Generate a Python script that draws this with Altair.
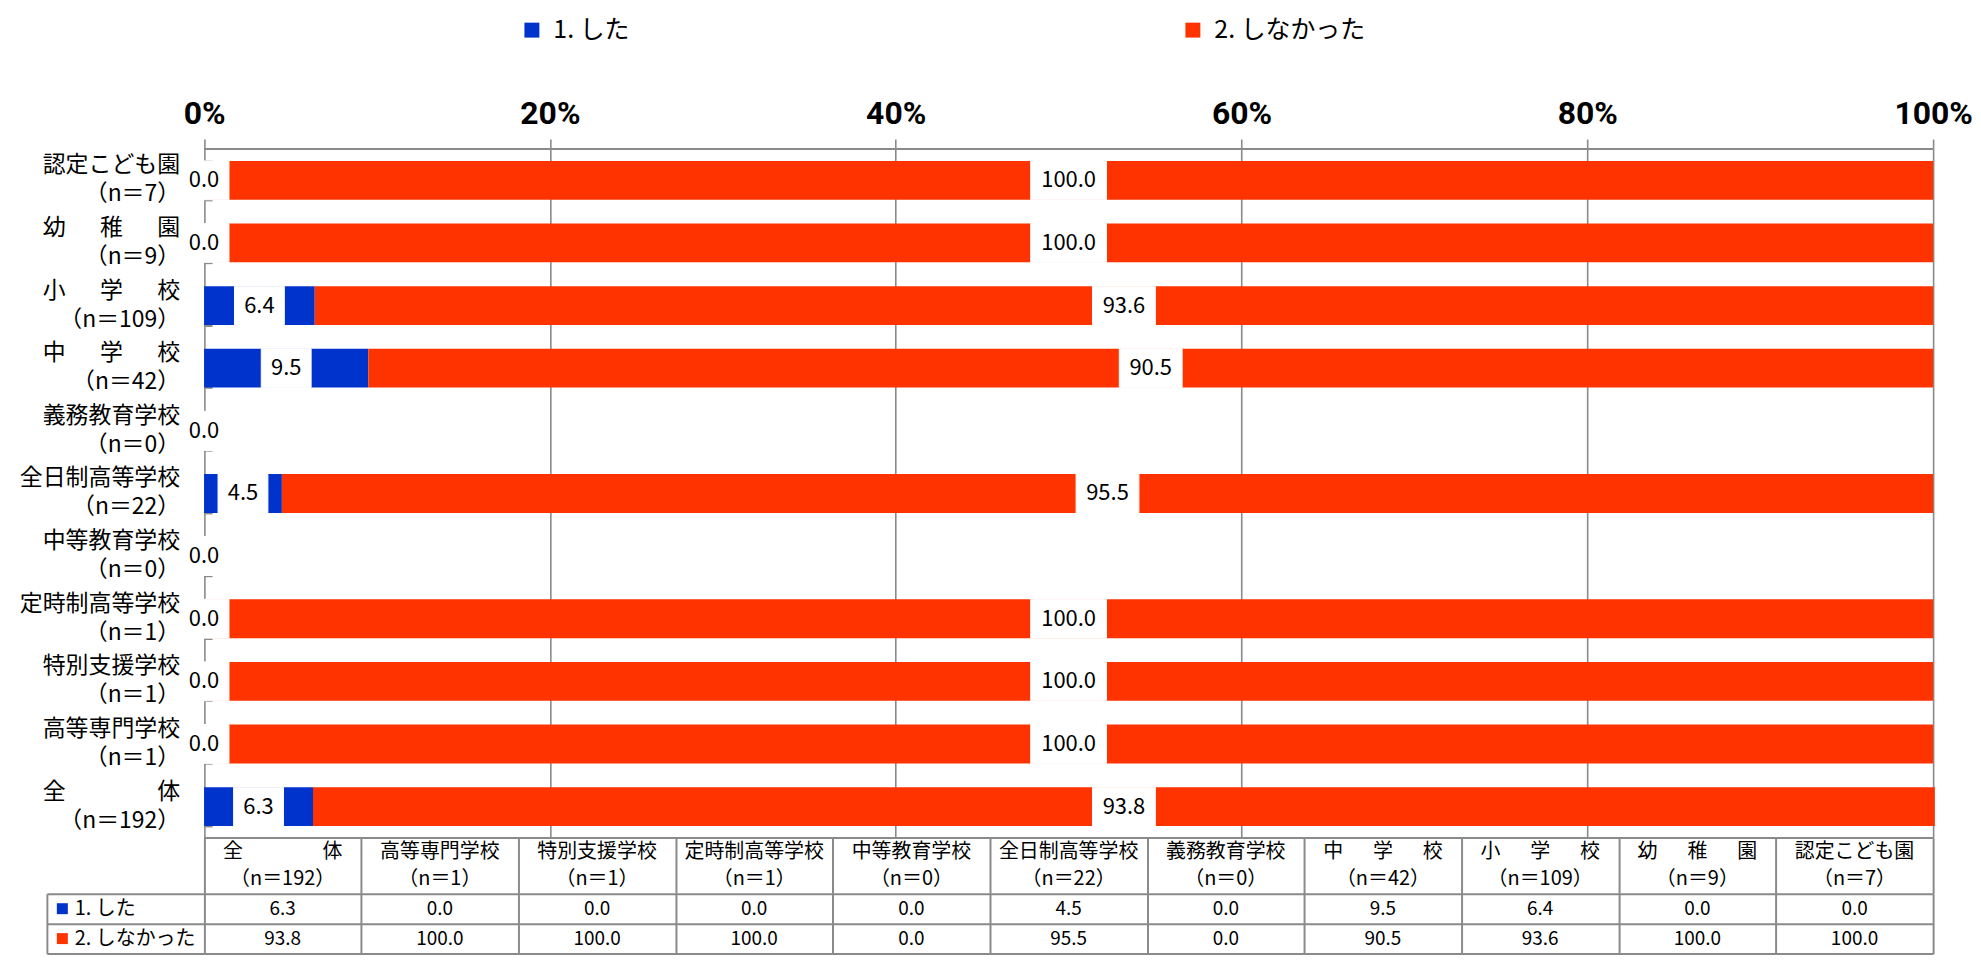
import altair as alt
import pandas as pd

# ---------------- data ----------------
categories = ["認定こども園", "幼稚園", "小学校", "中学校", "義務教育学校", "全日制高等学校",
              "中等教育学校", "定時制高等学校", "特別支援学校", "高等専門学校", "全体"]
display_names = ["認定こども園", "幼\u3000\u2002稚\u3000\u2002園", "小\u3000\u2002学\u3000\u2002校",
                 "中\u3000\u2002学\u3000\u2002校", "義務教育学校", "全日制高等学校", "中等教育学校",
                 "定時制高等学校", "特別支援学校", "高等専門学校", "全\u3000\u3000\u3000\u3000体"]
n_values = [7, 9, 109, 42, 0, 22, 0, 1, 1, 1, 192]
did = [0.0, 0.0, 6.4, 9.5, 0.0, 4.5, 0.0, 0.0, 0.0, 0.0, 6.3]
did_not = [100.0, 100.0, 93.6, 90.5, 0.0, 95.5, 0.0, 100.0, 100.0, 100.0, 93.8]
series_names = ["1. した", "2. しなかった"]
series_colors = ["#0033CC", "#FF3300"]
tick_values = [0, 20, 40, 60, 80, 100]

# ---------------- layout / style ----------------
FONT = "Noto Sans CJK JP"
TICKFONT = "Roboto"
GRID = "#8a8a8a"
NCOL = len(categories)
COLW = 100 / NCOL
W = 1892
ROW_H = 691
HEAD_H = 56
BODY_H = 60
PX = W / (100 + COLW)


def n_label(n):
    return f"（n＝{n}）"


def em_width(s):
    w = 0.0
    for ch in s:
        if ch in "0123456789n":
            w += 0.555
        elif ch == "\u2002":
            w += 0.5
        else:
            w += 1.0
    return w


# bars + labels table
bar_rows = []
for i, cat in enumerate(categories):
    start = 0.0
    for s, v in zip(series_names, [did[i], did_not[i]]):
        end = start + v
        mid = (start + end) / 2
        lbl = f"{v:.1f}"
        hw = (6.5 * len(lbl) + 5.5) / PX
        bar_rows.append({"cat": cat, "series": s, "start": start, "end": end, "mid": mid,
                         "label": lbl, "box_l": mid - hw, "box_r": mid + hw})
        start = end
df_bars = pd.DataFrame(bar_rows)

ylab_rows = []
for cat, name, n in zip(categories, display_names, n_values):
    l2 = n_label(n)
    pad = max(0.0, (em_width(name) - em_width(l2)) / 2)
    l2 = l2 + "\u2002" * int(round(pad / 0.5))
    ylab_rows.append({"cat": cat, "text": name + "\n" + l2, "x0": 0.0})
df_ylab = pd.DataFrame(ylab_rows)

xs = alt.Scale(domain=[-COLW, 100], nice=False, zero=False)
ys = alt.Scale(domain=categories, paddingInner=0.38, paddingOuter=0.19)
cs = alt.Scale(domain=series_names, range=series_colors)

xaxis = alt.Axis(orient="top", values=tick_values, labelExpr="datum.value + '%'", grid=True,
                 gridColor=GRID, gridWidth=1.6, domain=False, tickSize=10, tickColor=GRID,
                 tickWidth=1.6, labelFont=TICKFONT, labelFontWeight="bold", labelFontSize=32,
                 labelColor="black", labelPadding=16, labelBaseline="alphabetic",
                 labelFlush=False, title=None)
yaxis = alt.Axis(labels=False, domain=False, ticks=True, tickBand="extent", tickSize=8,
                 tickColor=GRID, tickWidth=2, offset=-(COLW * PX + 8), grid=False, title=None)

legend = alt.Legend(orient="none", legendX=474, legendY=-132, direction="horizontal", title=None,
                    symbolType="square", symbolSize=225, symbolStrokeWidth=0, labelFont=FONT,
                    labelFontSize=25, labelColor="black", labelOffset=9, columnPadding=552,
                    padding=0)

Y_MAIN = alt.Y("cat:N", sort=categories, scale=ys, axis=yaxis)

bars = alt.Chart(df_bars).mark_bar().encode(
    x=alt.X("start:Q", scale=xs, axis=xaxis),
    x2="end:Q",
    y=Y_MAIN,
    color=alt.Color("series:N", scale=cs, legend=legend),
)
boxes = alt.Chart(df_bars).mark_bar(color="white", stroke="white", strokeWidth=1).encode(
    x=alt.X("box_l:Q", scale=xs, axis=xaxis),
    x2="box_r:Q",
    y=Y_MAIN,
)
labels = alt.Chart(df_bars).transform_filter(
    "datum.series == '" + series_names[0] + "' || datum.end > 0"
).mark_text(font=FONT, fontSize=22, color="black").encode(
    x=alt.X("mid:Q", scale=xs, axis=xaxis),
    y=Y_MAIN,
    text="label:N",
)
ylabels = alt.Chart(df_ylab).mark_text(font=FONT, fontSize=23, color="black", align="right",
                                       dx=-24, dy=-15, lineBreak="\n", lineHeight=29).encode(
    x=alt.X("x0:Q", scale=xs, axis=xaxis),
    y=Y_MAIN,
    text="text:N",
)
df_top = pd.DataFrame({"a": [tick_values[0]], "b": [tick_values[-1]]})
topline = alt.Chart(df_top).mark_rule(color=GRID, strokeWidth=2).encode(
    x=alt.X("a:Q", scale=xs, axis=xaxis), x2="b:Q", y=alt.value(0)
)
main = alt.layer(bars, boxes, labels, ylabels, topline).properties(width=W, height=ROW_H)

# ---------------- data table ----------------
table_order = list(reversed(range(NCOL)))
head_rows = []
body_rows = []
for j, k in enumerate(table_order):
    xc = (j + 0.5) * 100 / NCOL
    head_rows.append({"xc": xc, "text": display_names[k] + "\n" + n_label(n_values[k])})
    body_rows.append({"xc": xc, "series": series_names[0], "text": f"{did[k]:.1f}"})
    body_rows.append({"xc": xc, "series": series_names[1], "text": f"{did_not[k]:.1f}"})
df_head = pd.DataFrame(head_rows)
df_body = pd.DataFrame(body_rows)
df_rowhead = pd.DataFrame({"series": series_names, "xh": [-COLW] * len(series_names)})

head_grid = [i * 100 / NCOL for i in range(NCOL + 1)]
body_grid = [-COLW] + head_grid

head_xaxis = alt.Axis(values=head_grid, grid=True, gridColor=GRID, gridWidth=2, labels=False,
                      ticks=False, domain=False, title=None)
head_text = alt.Chart(df_head).mark_text(font=FONT, fontSize=20, color="black", lineBreak="\n",
                                         lineHeight=27, dy=-14).encode(
    x=alt.X("xc:Q", scale=xs, axis=head_xaxis),
    text="text:N",
)
head_top = alt.Chart(df_top).mark_rule(color=GRID, strokeWidth=2).encode(
    x=alt.X("a:Q", scale=xs, axis=head_xaxis), x2="b:Q", y=alt.value(0)
)
head = alt.layer(head_text, head_top).properties(width=W, height=HEAD_H)

bys = alt.Scale(domain=series_names, paddingInner=0, paddingOuter=0)
body_xaxis = alt.Axis(values=body_grid, grid=True, gridColor=GRID, gridWidth=2, labels=False,
                      ticks=False, domain=False, title=None)
body_yaxis = alt.Axis(grid=True, tickBand="extent", gridColor=GRID, gridWidth=2, labels=False,
                      ticks=False, domain=False, title=None)
Y_BODY = alt.Y("series:N", sort=series_names, scale=bys, axis=body_yaxis)

body_text = alt.Chart(df_body).mark_text(font=FONT, fontSize=19, color="black").encode(
    x=alt.X("xc:Q", scale=xs, axis=body_xaxis),
    y=Y_BODY,
    text="text:N",
)
row_sq = alt.Chart(df_rowhead).mark_square(size=121, xOffset=15.5, opacity=1).encode(
    x=alt.X("xh:Q", scale=xs, axis=body_xaxis),
    y=Y_BODY,
    color=alt.Color("series:N", scale=cs, legend=None),
)
row_txt = alt.Chart(df_rowhead).mark_text(font=FONT, fontSize=20, color="black", align="left",
                                          dx=28).encode(
    x=alt.X("xh:Q", scale=xs, axis=body_xaxis),
    y=Y_BODY,
    text="series:N",
)
body = alt.layer(body_text, row_sq, row_txt).properties(width=W, height=BODY_H)

chart = (
    alt.vconcat(main, head, body, spacing=0, bounds="flush")
    .resolve_scale(x="independent", y="independent", color="independent")
    .resolve_legend(color="independent")
    .properties(padding={"left": 11, "top": 8, "right": 0, "bottom": 0})
    .configure_view(stroke=None)
)

chart.save("out.html", embed_options={"renderer": "svg", "actions": False})
